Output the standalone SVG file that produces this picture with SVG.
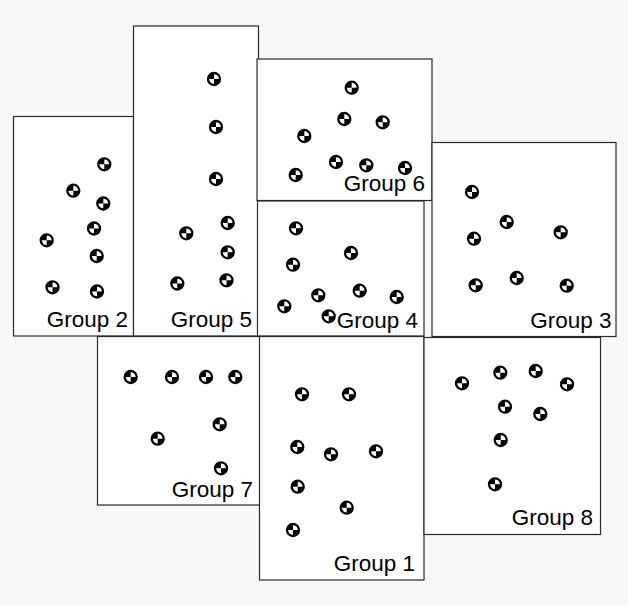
<svg xmlns="http://www.w3.org/2000/svg" xmlns:xlink="http://www.w3.org/1999/xlink" width="628" height="606" viewBox="0 0 628 606">
<style>
.box{fill:#fff;stroke:#2a2a2a;stroke-width:1.2}
.lbl{font-family:"Liberation Sans",Arial,sans-serif;font-size:22.5px;fill:#000;text-anchor:end}
</style>
<defs>
<g id="mk">
<circle r="6" fill="#fff" stroke="#000" stroke-width="2.3"/>
<path d="M0,0 L-6,0 A6,6 0 0 1 0,-6 Z M0,0 L6,0 A6,6 0 0 1 0,6 Z" fill="#000"/>
</g>
</defs>
<rect x="0" y="0" width="628" height="606" fill="#f8f8f8"/>
<g id="group2">
<rect class="box" x="13.5" y="116.5" width="120" height="219.5"/>
<use xlink:href="#mk" x="104.3" y="164.3"/>
<use xlink:href="#mk" x="73.3" y="190.7"/>
<use xlink:href="#mk" x="103.3" y="203.5"/>
<use xlink:href="#mk" x="94" y="228.5"/>
<use xlink:href="#mk" x="46.7" y="240.3"/>
<use xlink:href="#mk" x="96.7" y="256"/>
<use xlink:href="#mk" x="52.5" y="287.3"/>
<use xlink:href="#mk" x="97" y="291.5"/>
<text class="lbl" x="128" y="327">Group 2</text>
</g>
<g id="group5">
<rect class="box" x="133.5" y="26" width="125" height="310"/>
<use xlink:href="#mk" x="214" y="79"/>
<use xlink:href="#mk" x="216" y="127"/>
<use xlink:href="#mk" x="216" y="179"/>
<use xlink:href="#mk" x="227.7" y="223"/>
<use xlink:href="#mk" x="186.3" y="233.3"/>
<use xlink:href="#mk" x="227.7" y="252.3"/>
<use xlink:href="#mk" x="226.5" y="280.3"/>
<use xlink:href="#mk" x="177.3" y="283.5"/>
<text class="lbl" x="252" y="327">Group 5</text>
</g>
<g id="group6">
<rect class="box" x="257" y="59" width="175" height="141.5"/>
<use xlink:href="#mk" x="351.7" y="87.7"/>
<use xlink:href="#mk" x="344.3" y="119"/>
<use xlink:href="#mk" x="382.7" y="122.3"/>
<use xlink:href="#mk" x="304.3" y="136"/>
<use xlink:href="#mk" x="336" y="162"/>
<use xlink:href="#mk" x="366.3" y="165.3"/>
<use xlink:href="#mk" x="405" y="168"/>
<use xlink:href="#mk" x="295.7" y="175"/>
<text class="lbl" x="425" y="191">Group 6</text>
</g>
<g id="group4">
<rect class="box" x="257.5" y="201" width="166.5" height="135"/>
<use xlink:href="#mk" x="296" y="228.3"/>
<use xlink:href="#mk" x="351" y="253"/>
<use xlink:href="#mk" x="293" y="264.7"/>
<use xlink:href="#mk" x="359.7" y="290.7"/>
<use xlink:href="#mk" x="318.3" y="295.3"/>
<use xlink:href="#mk" x="396.7" y="297"/>
<use xlink:href="#mk" x="284.3" y="306.3"/>
<use xlink:href="#mk" x="328.7" y="316.3"/>
<text class="lbl" x="418" y="328">Group 4</text>
</g>
<g id="group3">
<rect class="box" x="432" y="142.5" width="184" height="194"/>
<use xlink:href="#mk" x="472" y="192"/>
<use xlink:href="#mk" x="506.7" y="222"/>
<use xlink:href="#mk" x="560.7" y="232.3"/>
<use xlink:href="#mk" x="474" y="238.7"/>
<use xlink:href="#mk" x="516.7" y="278"/>
<use xlink:href="#mk" x="475.7" y="285.3"/>
<use xlink:href="#mk" x="566.7" y="285.7"/>
<text class="lbl" x="611.5" y="327.5">Group 3</text>
</g>
<g id="group7">
<rect class="box" x="97.5" y="336.5" width="162.5" height="168.5"/>
<use xlink:href="#mk" x="130.7" y="377"/>
<use xlink:href="#mk" x="172" y="377"/>
<use xlink:href="#mk" x="206" y="377"/>
<use xlink:href="#mk" x="235.3" y="377"/>
<use xlink:href="#mk" x="219.7" y="424.3"/>
<use xlink:href="#mk" x="157.7" y="438.7"/>
<use xlink:href="#mk" x="221" y="468.3"/>
<text class="lbl" x="253" y="497">Group 7</text>
</g>
<g id="group1">
<rect class="box" x="259.5" y="336.5" width="164.5" height="243.5"/>
<use xlink:href="#mk" x="302" y="394.3"/>
<use xlink:href="#mk" x="349" y="394.3"/>
<use xlink:href="#mk" x="297.3" y="447"/>
<use xlink:href="#mk" x="376" y="451.3"/>
<use xlink:href="#mk" x="331" y="454.3"/>
<use xlink:href="#mk" x="297.7" y="486.7"/>
<use xlink:href="#mk" x="346.7" y="507.7"/>
<use xlink:href="#mk" x="293" y="530"/>
<text class="lbl" x="415" y="571">Group 1</text>
</g>
<g id="group8">
<rect class="box" x="424" y="337.5" width="176.5" height="197"/>
<use xlink:href="#mk" x="462" y="383.3"/>
<use xlink:href="#mk" x="500.3" y="372.7"/>
<use xlink:href="#mk" x="535.7" y="371"/>
<use xlink:href="#mk" x="567" y="384.3"/>
<use xlink:href="#mk" x="505" y="406.7"/>
<use xlink:href="#mk" x="540.3" y="414"/>
<use xlink:href="#mk" x="500.7" y="440"/>
<use xlink:href="#mk" x="495" y="484.3"/>
<text class="lbl" x="593" y="525">Group 8</text>
</g>
<g id="connectors"/>
</svg>
